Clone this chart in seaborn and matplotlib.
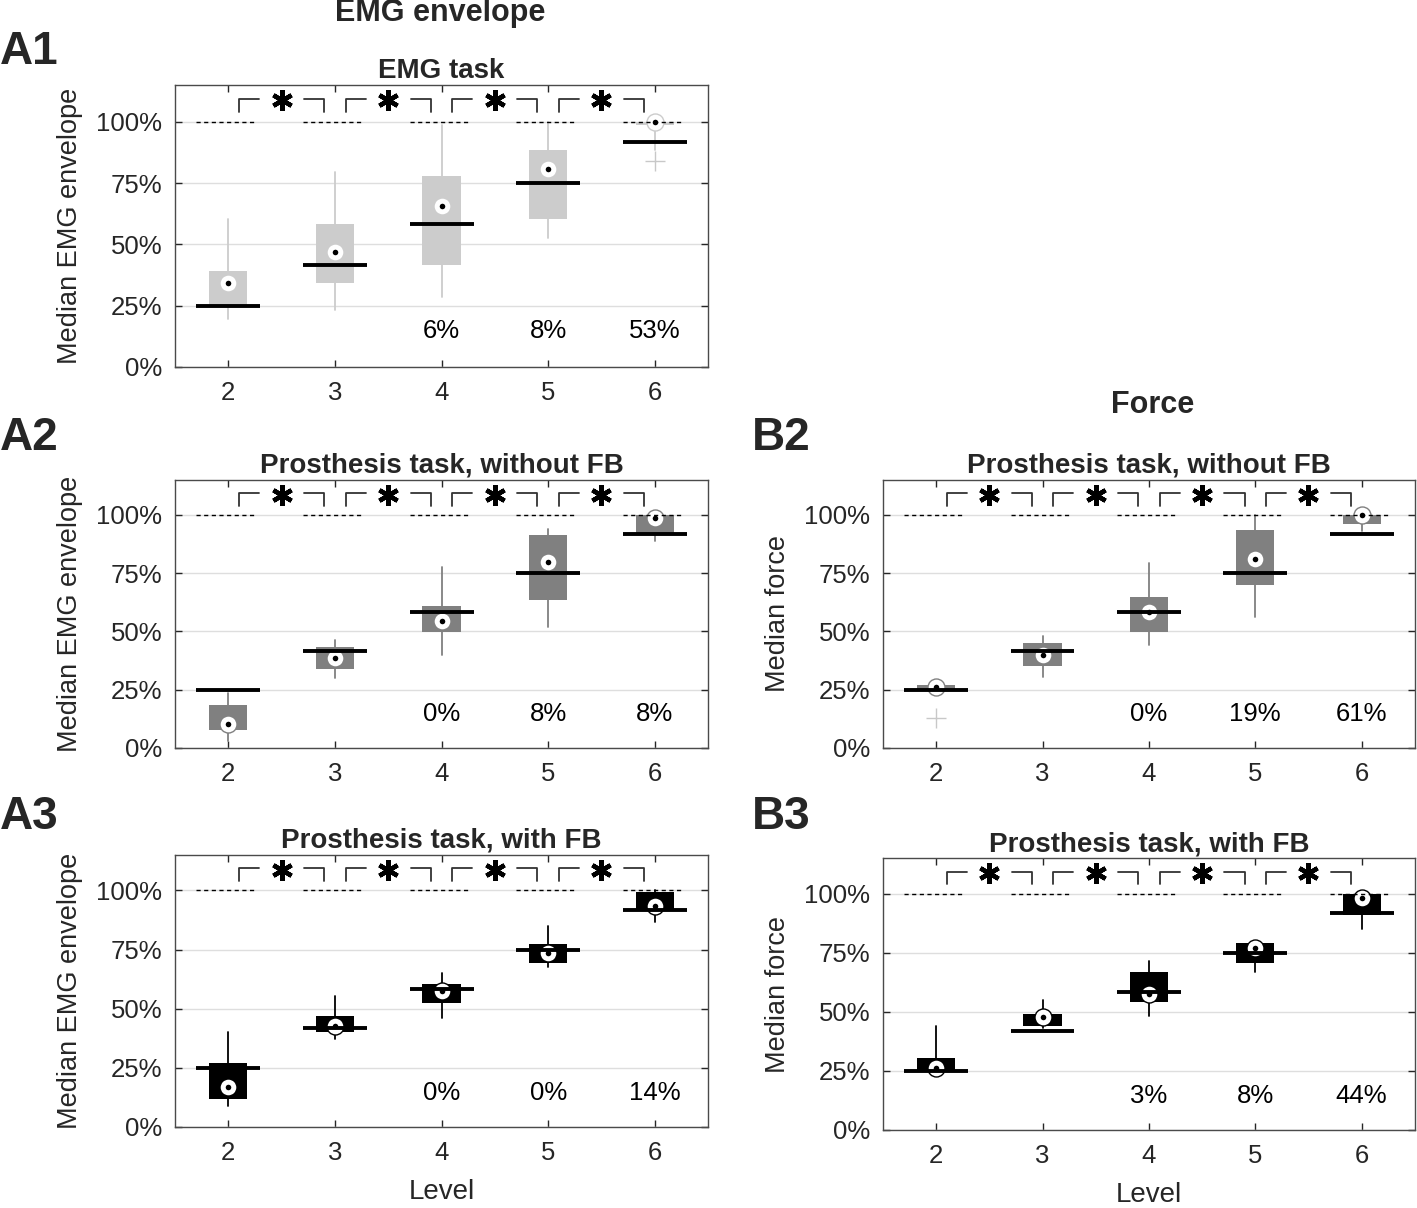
import numpy as np
import matplotlib
matplotlib.use('Agg')
import matplotlib.pyplot as plt
import seaborn as sns

# ---- data (in % of max) ----
levels = [2, 3, 4, 5, 6]
targets = [25, 41.7, 58.3, 75, 91.7]

# A1: EMG envelope, EMG task
a1_med = [34.1, 46.7, 65.8, 80.6, 100.0]
a1_q1 = [25.2, 34.3, 41.5, 60.2, 98.6]
a1_q3 = [39.1, 58.3, 77.9, 88.7, 100.0]
a1_lo = [19.7, 23.1, 28.5, 52.8, 88.5]
a1_hi = [60.3, 79.5, 98.6, 100.0, 100.0]
a1_out = [[], [], [], [], [84.1]]
a1_pct = ['', '', '6%', '8%', '53%']

# A2: EMG envelope, prosthesis task without FB
a2_med = [10.5, 38.7, 54.5, 79.6, 98.5]
a2_q1 = [7.9, 34.1, 49.8, 63.3, 91.8]
a2_q3 = [18.4, 43.5, 61.0, 91.4, 100.0]
a2_lo = [3.2, 30.1, 39.7, 52.1, 88.9]
a2_hi = [23.7, 46.2, 77.5, 93.8, 100.0]
a2_out = [[], [], [], [], []]
a2_pct = ['', '', '0%', '8%', '8%']

# A3: EMG envelope, prosthesis task with FB
a3_med = [16.7, 42.5, 57.4, 73.7, 93.6]
a3_q1 = [11.8, 40.1, 52.6, 69.3, 91.9]
a3_q3 = [26.9, 47.1, 60.5, 77.3, 99.3]
a3_lo = [8.9, 37.3, 45.9, 67.6, 86.8]
a3_hi = [40.1, 55.3, 65.2, 85.1, 100.0]
a3_out = [[], [], [], [], []]
a3_pct = ['', '', '0%', '0%', '14%']

# B2: force, prosthesis task without FB
b2_med = [26.0, 39.9, 58.2, 81.1, 100.0]
b2_q1 = [24.9, 35.3, 49.9, 70.0, 95.9]
b2_q3 = [27.0, 44.9, 64.7, 93.7, 100.0]
b2_lo = [24.9, 30.3, 44.2, 56.1, 93.0]
b2_hi = [27.0, 48.2, 79.4, 100.0, 100.0]
b2_out = [[13.0], [], [], [], []]
b2_pct = ['', '', '0%', '19%', '61%']

# B3: force, prosthesis task with FB
b3_med = [26.4, 47.6, 57.4, 77.0, 98.1]
b3_q1 = [25.0, 44.0, 54.1, 70.6, 91.1]
b3_q3 = [30.4, 49.1, 66.7, 79.2, 100.0]
b3_lo = [25.0, 43.3, 48.1, 66.6, 84.9]
b3_hi = [43.8, 54.8, 71.6, 79.2, 100.0]
b3_out = [[], [], [], [], []]
b3_pct = ['', '', '3%', '8%', '44%']

sns.set_theme(style='white')
plt.rcParams['font.family'] = ['Liberation Sans', 'DejaVu Sans']
TXT = '#262626'


def draw_panel(ax, med, q1, q3, lo, hi, outl, pct, color, title, ylabel, xlabel=None):
    lv = np.array(levels, dtype=float)
    stats = []
    for i in range(len(levels)):
        stats.append(dict(med=med[i], q1=q1[i], q3=q3[i], whislo=lo[i], whishi=hi[i], fliers=outl[i]))
    ax.bxp(stats, positions=levels, widths=0.36, patch_artist=True, showcaps=False,
           manage_ticks=False,
           boxprops=dict(facecolor=color, edgecolor='none'),
           whiskerprops=dict(color=color, linewidth=1.3),
           medianprops=dict(linewidth=0),
           flierprops=dict(marker='+', markeredgecolor='#c8c8c8', markersize=14, markeredgewidth=1))
    # median markers
    sns.scatterplot(x=levels, y=med, ax=ax, s=150, color='white', edgecolor=color,
                    linewidth=1.0, zorder=4, legend=False)
    sns.scatterplot(x=levels, y=med, ax=ax, s=16, color='black', edgecolor='black',
                    linewidth=0, zorder=5, legend=False)
    # target and max levels
    ax.hlines(targets, lv - 0.3, lv + 0.3, color='black', linewidth=2.8, zorder=6)
    ax.hlines([100] * len(levels), lv - 0.3, lv + 0.27, color='black', linewidth=1.0,
              linestyles=(0, (3, 2.5)), zorder=6)
    # significance brackets between consecutive levels
    for a in levels[:-1]:
        ax.plot([a + 0.1, a + 0.1, a + 0.29], [103.9, 109.3, 109.3], color='#333333', lw=1.3)
        ax.plot([a + 0.71, a + 0.9, a + 0.9], [109.3, 109.3, 103.9], color='#333333', lw=1.3)
        ax.plot([a + 0.5], [108.7], marker=(6, 2, 0), ms=15, mew=3.2, color='black', ls='none')
    for x, t in zip(levels, pct):
        if t:
            ax.text(x, 14.5, t, ha='center', va='center', fontsize=18.5, color='black')

    ax.set_xlim(1.5, 6.5)
    ax.set_ylim(0, 115)
    ax.set_xticks(levels)
    ax.set_xticklabels([str(v) for v in levels])
    ax.set_yticks([0, 25, 50, 75, 100])
    ax.set_yticklabels(['0%', '25%', '50%', '75%', '100%'])
    ax.yaxis.grid(True, color='#dedede', linewidth=1.0)
    ax.xaxis.grid(False)
    ax.set_axisbelow(True)
    ax.tick_params(axis='both', direction='in', length=5, width=1, colors=TXT,
                   labelsize=18.5, top=True, right=True, bottom=True, left=True)
    ax.tick_params(axis='y', pad=9)
    ax.tick_params(axis='x', pad=10)
    for sp in ax.spines.values():
        sp.set_visible(True)
        sp.set_color('#4a4a4a')
        sp.set_linewidth(1.0)
    ax.set_title(title, fontsize=20, fontweight='bold', pad=5)
    ax.set_ylabel(ylabel, fontsize=19.5, color=TXT, labelpad=10)
    if xlabel:
        ax.set_xlabel(xlabel, fontsize=20, color=TXT, labelpad=10)


fig = plt.figure(figsize=(14.17, 12.08), dpi=100)
axA1 = fig.add_axes([0.1235, 0.6962, 0.3762, 0.2334])
axA2 = fig.add_axes([0.1235, 0.3808, 0.3762, 0.2219])
axA3 = fig.add_axes([0.1235, 0.0671, 0.3762, 0.2252])
axB2 = fig.add_axes([0.6231, 0.3808, 0.3754, 0.2219])
axB3 = fig.add_axes([0.6231, 0.0646, 0.3754, 0.2251])

draw_panel(axA1, a1_med, a1_q1, a1_q3, a1_lo, a1_hi, a1_out, a1_pct, '#cccccc',
           'EMG task', 'Median EMG envelope')
draw_panel(axA2, a2_med, a2_q1, a2_q3, a2_lo, a2_hi, a2_out, a2_pct, '#808080',
           'Prosthesis task, without FB', 'Median EMG envelope')
draw_panel(axA3, a3_med, a3_q1, a3_q3, a3_lo, a3_hi, a3_out, a3_pct, '#000000',
           'Prosthesis task, with FB', 'Median EMG envelope', 'Level')
draw_panel(axB2, b2_med, b2_q1, b2_q3, b2_lo, b2_hi, b2_out, b2_pct, '#808080',
           'Prosthesis task, without FB', 'Median force')
draw_panel(axB3, b3_med, b3_q1, b3_q3, b3_lo, b3_hi, b3_out, b3_pct, '#000000',
           'Prosthesis task, with FB', 'Median force', 'Level')

H = 1208.0
W = 1417.0
fig.text(440 / W, 1 - 13 / H, 'EMG envelope', ha='center', va='center', fontsize=22, fontweight='bold')
fig.text(1153 / W, 1 - 405 / H, 'Force', ha='center', va='center', fontsize=22, fontweight='bold')
for lab, x, y in [('A1', 0, 52), ('A2', 0, 438), ('A3', 0, 817), ('B2', 752, 438), ('B3', 752, 817)]:
    fig.text(x / W, 1 - y / H, lab, ha='left', va='center', fontsize=33, fontweight='bold')

fig.savefig('out.png', dpi=100)
plt.close(fig)
